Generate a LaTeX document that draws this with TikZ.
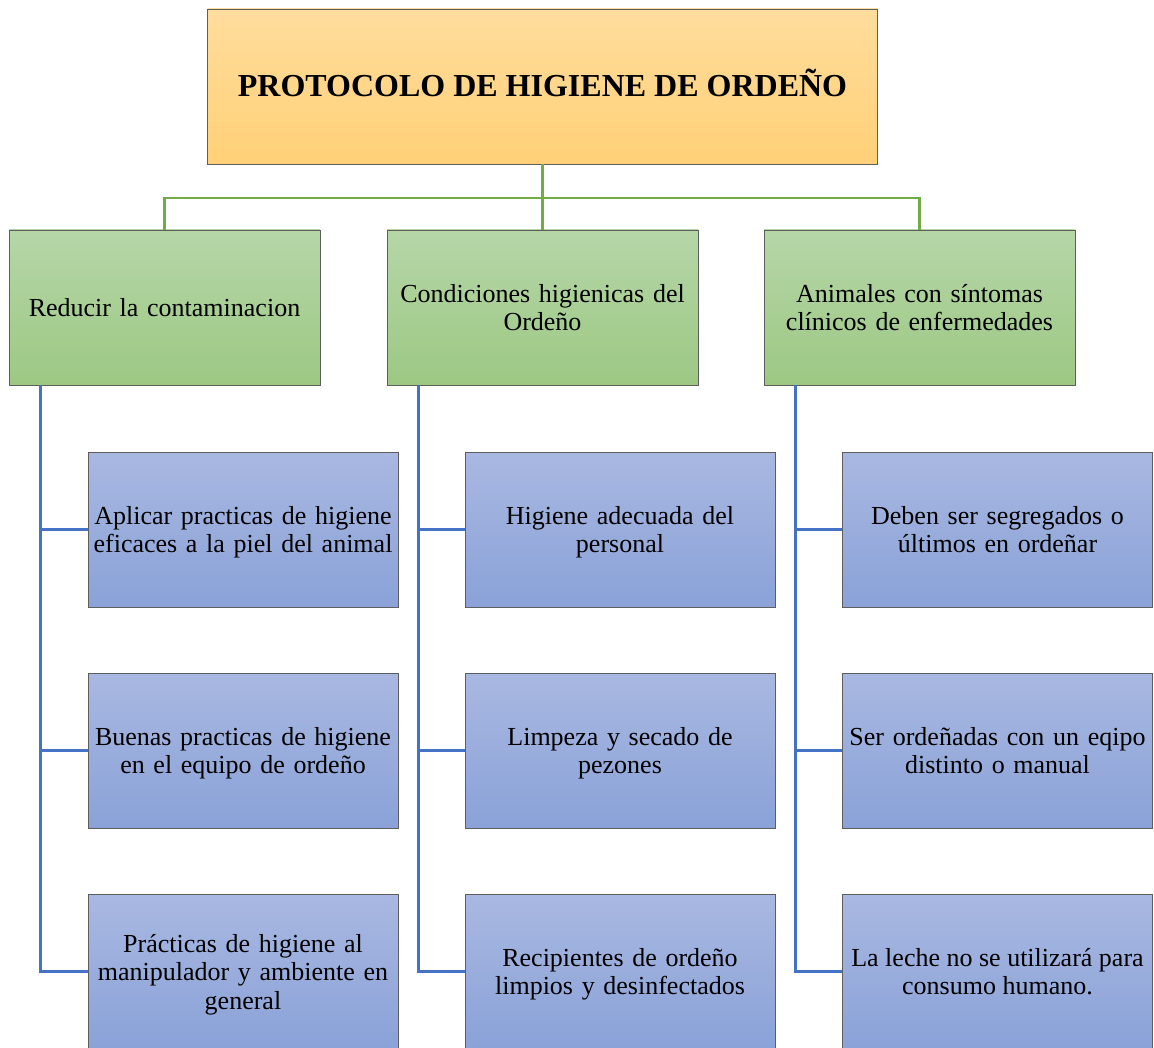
\documentclass[tikz,border=0pt]{standalone}
\usepackage{fontspec}
\setmainfont{Liberation Serif}
\newcommand{\topstrut}{\rule{0pt}{24pt}}
\newcommand{\botstrut}{\rule[-6pt]{0pt}{6pt}}
\begin{document}
\begin{tikzpicture}[x=1pt,y=1pt,
  box/.style={draw=boxline, line width=0.9pt, inner sep=2pt, align=center, text width=305pt,
    font=\fontsize{26}{28.5}\selectfont,
    execute at begin node=\topstrut, execute at end node=\botstrut},
  topbox/.style={draw=boxline, line width=0.9pt, inner sep=2pt, align=center,
    top color=orTop, bottom color=orBot, minimum width=670pt, minimum height=155pt,
    text height=21pt, text depth=0pt,
    font=\fontsize{32}{36}\selectfont\bfseries},
  lvbox/.style={box, top color=grTop, bottom color=grBot, minimum width=311pt, minimum height=155pt},
  chbox/.style={box, top color=blTop, bottom color=blBot, minimum width=310pt, minimum height=155pt},
  gline/.style={draw=grLine, line width=2.2pt},
  bline/.style={draw=blLine, line width=2.2pt}]
\definecolor{boxline}{HTML}{5E5E5E}
\definecolor{orTop}{HTML}{FFDD9D}
\definecolor{orBot}{HTML}{FFD077}
\definecolor{grTop}{HTML}{B6D6A8}
\definecolor{grBot}{HTML}{9CC883}
\definecolor{blTop}{HTML}{A9B8E1}
\definecolor{blBot}{HTML}{8AA2D8}
\definecolor{grLine}{HTML}{70AD47}
\definecolor{blLine}{HTML}{4472C4}
\useasboundingbox (0,0) rectangle (1154,-1048);
\fill[white] (0,0) rectangle (1154,-1048);

\node[topbox] (top) at (542.5,-86.5) {PROTOCOLO DE HIGIENE DE ORDEÑO};

\node[lvbox] (a) at (164.5,-307.5) {Reducir la contaminacion};
\node[lvbox] (b) at (542.5,-307.5) {Condiciones higienicas del\\Ordeño};
\node[lvbox] (c) at (919.5,-307.5) {Animales con síntomas\\clínicos de enfermedades};

\node[chbox] (a1) at (243,-529.5) {Aplicar practicas de higiene\\eficaces a la piel del animal};
\node[chbox] (a2) at (243,-750.5) {Buenas practicas de higiene\\en el equipo de ordeño};
\node[chbox] (a3) at (243,-971.5) {Prácticas de higiene al\\manipulador y ambiente en\\general};

\node[chbox] (b1) at (620,-529.5) {Higiene adecuada del\\personal};
\node[chbox] (b2) at (620,-750.5) {Limpeza y secado de\\pezones};
\node[chbox] (b3) at (620,-971.5) {Recipientes de ordeño\\limpios y desinfectados};

\node[chbox] (c1) at (997.5,-529.5) {Deben ser segregados o\\últimos en ordeñar};
\node[chbox] (c2) at (997.5,-750.5) {Ser ordeñadas con un eqipo\\distinto o manual};
\node[chbox, align=flush center] (c3) at (997.5,-971.5) {La leche no se utilizará para\\consumo humano.};

\coordinate (j) at (542.5,-198);
\draw[gline] (top.south) -- (j);
\draw[gline] (j) -| (a.north);
\draw[gline] (j) -| (c.north);
\draw[gline] (j) -- (b.north);

\foreach \p in {a,b,c}{
  \foreach \k in {1,2,3}{
    \draw[bline] ([xshift=32pt]\p.south west) |- (\p\k.west);
  }
}
\end{tikzpicture}
\end{document}
